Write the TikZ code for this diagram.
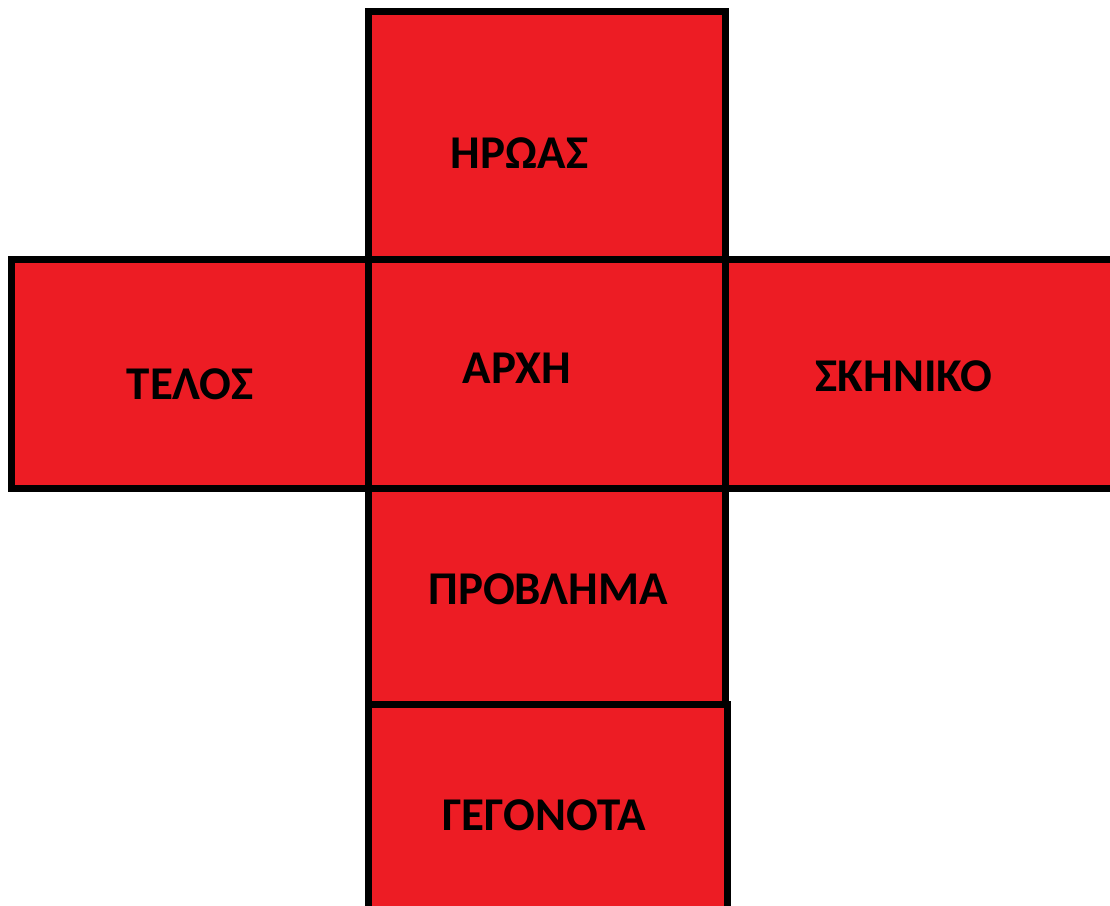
\documentclass[tikz,border=0pt]{standalone}
\usepackage{fontspec}
\setmainfont{Carlito}
\definecolor{paintred}{RGB}{237,28,36}
\tikzset{
  face/.style={draw=black, fill=paintred, line width=7pt},
  lbl/.style={anchor=base, inner sep=0pt, font=\fontsize{47}{51}\selectfont\bfseries, text=black}
}
\begin{document}
\begin{tikzpicture}[x=1pt,y=-1pt]
\useasboundingbox (0,0) rectangle (1110,905);
\clip (0,0) rectangle (1110,905);
\fill[white] (0,0) rectangle (1110,905);
% faces
\draw[face] (368.5,11) rectangle (725.5,259);
\draw[face] (11,259) rectangle (368.5,488.5);
\draw[face] (725.5,259) rectangle (1130,488.5);
\draw[face] (368.5,488.5) rectangle (725,704);
\draw[face] (368.5,704) rectangle (727,925);
\draw[face] (368.5,259) rectangle (725.5,488.5);
% labels
\node[lbl] (hero) at (519.5,168) {ΗΡΩΑΣ};
\node[lbl] (end) at (190,399) {ΤΕΛΟΣ};
\node[lbl] (start) at (516.7,383) {ΑΡΧΗ};
\node[lbl] (scene) at (904,391.5) {ΣΚΗΝΙΚΟ};
\node[lbl] (problem) at (548,604) {ΠΡΟΒΛΗΜΑ};
\node[lbl] (events) at (544,830.5) {ΓΕΓΟΝΟΤΑ};
\end{tikzpicture}
\end{document}
